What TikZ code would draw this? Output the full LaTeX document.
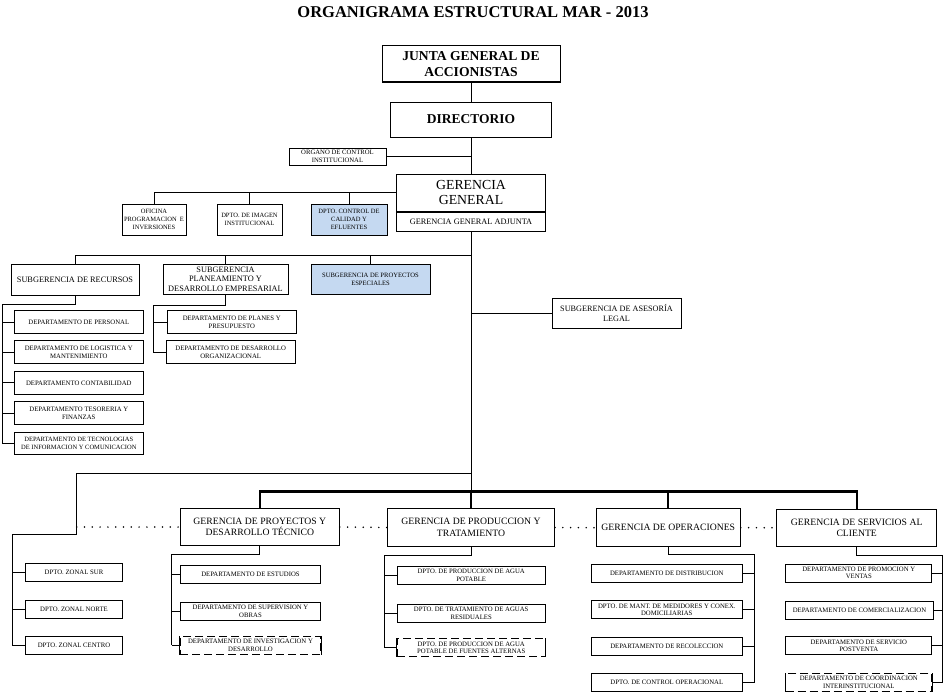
\documentclass[tikz,border=0pt]{standalone}
\usepackage{fontspec}
\setmainfont{Liberation Serif}
\usepackage{xcolor}
\definecolor{BoxBlue}{RGB}{197,217,241}
\usepackage{tikz}
\tikzstyle{Box}=[draw=black,line width=1pt,inner sep=0pt,align=center,
font=\fontsize{9.7}{11.5}\selectfont]
\tikzstyle{Small}=[Box,font=\fontsize{6.5}{7.8}\selectfont]
\tikzstyle{Dept}=[Box,minimum height=18,font=\fontsize{6.75}{7.6}\selectfont]
\tikzstyle{Open}=[Dept,dash pattern=on 8pt off 4pt]
\tikzstyle{Blue}=[fill=BoxBlue]
\tikzstyle{Edge}=[draw=black,line width=1pt]
\tikzstyle{Bar}=[draw=black,line width=2.2pt]
\tikzstyle{Dots}=[draw=black,line width=1.7pt,line cap=round,
dash pattern=on 0pt off 7.8pt]

\begin{document}
\begin{tikzpicture}[x=1pt,y=-1pt]
    \useasboundingbox(0,0)rectangle(945,693);
    \node[font=\fontsize{16.5}{20}\selectfont\bfseries](title)at(473,12)
        {ORGANIGRAMA ESTRUCTURAL MAR - 2013};
    % alta direccion
    \node[Box,minimum width=178,minimum height=36,
        font=\fontsize{13.6}{15.5}\selectfont\bfseries](junta)at(471,64)
        {JUNTA GENERAL DE\\ACCIONISTAS};
    \node[Box,minimum width=161,minimum height=35,
        font=\fontsize{13.5}{15}\selectfont\bfseries](dir)at(471,119.5)
        {DIRECTORIO};
    \node[Small,minimum width=97,minimum height=17,
        font=\fontsize{6.7}{7.4}\selectfont](oci)at(337.5,156.5)
        {ORGANO DE CONTROL\\INSTITUCIONAL};
    \node[Box,minimum width=149,minimum height=37,
        font=\fontsize{13.8}{15.5}\selectfont](gg)at(471,192.5)
        {GERENCIA\\GENERAL};
    \node[Box,minimum width=149,minimum height=19,anchor=north,
        font=\fontsize{8.3}{9}\selectfont](gga)at(gg.south)
        {GERENCIA GENERAL ADJUNTA};
    \node[Small,minimum width=64,minimum height=31](ofi)at(154,219.5)
        {OFICINA\\PROGRAMACION~~E\\INVERSIONES};
    \node[Small,minimum width=65,minimum height=31](img)at(249.5,219.5)
        {DPTO. DE IMAGEN\\INSTITUCIONAL};
    \node[Small,Blue,minimum width=76,minimum height=31](cal)at(349,219.5)
        {DPTO. CONTROL DE\\CALIDAD Y\\EFLUENTES};
    % subgerencias
    \node[Box,minimum width=128,minimum height=31,
        font=\fontsize{8.3}{10}\selectfont](srec)at(75,279.5)
        {SUBGERENCIA DE RECURSOS};
    \node[Box,minimum width=125,minimum height=30,
        font=\fontsize{8.3}{9.4}\selectfont](splan)at(225.5,279)
        {SUBGERENCIA\\PLANEAMIENTO Y\\DESARROLLO EMPRESARIAL};
    \node[Small,Blue,minimum width=119,minimum height=30,
        font=\fontsize{6.6}{8}\selectfont](sproy)at(370.5,279)
        {SUBGERENCIA DE PROYECTOS\\ESPECIALES};
    \node[Box,minimum width=129,minimum height=30,
        font=\fontsize{8.2}{9.6}\selectfont](sleg)at(616.5,313)
        {SUBGERENCIA DE ASESOR\'IA\\LEGAL};
    \node[Dept,minimum width=129,minimum height=22.6](per)at(78.8,322)
        {DEPARTAMENTO DE PERSONAL};
    \node[Dept,minimum width=129,minimum height=22.6](log)at(78.8,352.2)
        {DEPARTAMENTO DE LOGISTICA Y\\MANTENIMIENTO};
    \node[Dept,minimum width=129,minimum height=22.6](con)at(78.8,382.8)
        {DEPARTAMENTO CONTABILIDAD};
    \node[Dept,minimum width=129,minimum height=22.6](tes)at(78.8,413.2)
        {DEPARTAMENTO TESORERIA Y\\FINANZAS};
    \node[Dept,minimum width=129,minimum height=22.6,
        font=\fontsize{6.5}{7.6}\selectfont](tec)at(78.8,443.3)
        {DEPARTAMENTO DE TECNOLOGIAS\\DE INFORMACION Y COMUNICACION};
    \node[Dept,minimum width=128.7,minimum height=22.6](pla)at(231.7,322)
        {DEPARTAMENTO DE PLANES Y\\PRESUPUESTO};
    \node[Dept,minimum width=129,minimum height=22.6](dor)at(230.7,352.2)
        {DEPARTAMENTO DE DESARROLLO\\ORGANIZACIONAL};
    % gerencias de linea
    \node[Box,minimum width=159,minimum height=37.4](gpd)at(259.8,527)
        {GERENCIA DE PROYECTOS Y\\DESARROLLO T\'ECNICO};
    \node[Box,minimum width=167,minimum height=38.4](gpt)at(471,527.5)
        {GERENCIA DE PRODUCCION Y\\TRATAMIENTO};
    \node[Box,minimum width=144,minimum height=38](gop)at(668.3,527.7)
        {GERENCIA DE OPERACIONES};
    \node[Box,minimum width=160,minimum height=37](gsc)at(856.7,527.7)
        {GERENCIA DE SERVICIOS AL\\CLIENTE};
    \node[Dept,minimum width=96.6](zsur)at(74,572.3){DPTO. ZONAL SUR};
    \node[Dept,minimum width=96.6](znor)at(74,609.2){DPTO. ZONAL NORTE};
    \node[Dept,minimum width=96.6](zcen)at(74,645.8){DPTO. ZONAL CENTRO};
    \node[Dept,minimum width=140.4](est)at(250.5,574.5)
        {DEPARTAMENTO DE ESTUDIOS};
    \node[Dept,minimum width=140.4](sup)at(250.5,611.3)
        {DEPARTAMENTO DE SUPERVISION Y\\OBRAS};
    \node[Open,minimum width=140.4](inv)at(250.5,645.3)
        {DEPARTAMENTO DE INVESTIGACION Y\\DESARROLLO};
    \node[Dept,minimum width=147.7](pap)at(471.2,575.2)
        {DPTO. DE PRODUCCION DE AGUA\\POTABLE};
    \node[Dept,minimum width=147.7](tar)at(471.2,613.5)
        {DPTO. DE TRATAMIENTO DE AGUAS\\RESIDUALES};
    \node[Open,minimum width=147.7](pfa)at(471.2,647.8)
        {DPTO. DE PRODUCCION DE AGUA\\POTABLE DE FUENTES ALTERNAS};
    \node[Dept,minimum width=150.7](dis)at(666.8,573.5)
        {DEPARTAMENTO DE DISTRIBUCION};
    \node[Dept,minimum width=150.7](mme)at(666.8,609.8)
        {DPTO. DE MANT. DE MEDIDORES Y CONEX.\\DOMICILIARIAS};
    \node[Dept,minimum width=150.7](rec)at(666.8,646.7)
        {DEPARTAMENTO DE RECOLECCION};
    \node[Dept,minimum width=150.7](cop)at(666.8,682.5)
        {DPTO. DE CONTROL OPERACIONAL};
    \node[Dept,minimum width=146.3](pve)at(858.8,573)
        {DEPARTAMENTO DE PROMOCION Y\\VENTAS};
    \node[Dept,minimum width=147.6](com)at(859.5,610.3)
        {DEPARTAMENTO DE COMERCIALIZACION};
    \node[Dept,minimum width=146.3](pos)at(858.8,645.8)
        {DEPARTAMENTO DE SERVICIO\\POSTVENTA};
    \node[Open,minimum width=146.3](coo)at(858.8,682.5)
        {DEPARTAMENTO DE COORDINACION\\INTERINSTITUCIONAL};
    % puntos de quiebre
    \coordinate(sub)at(471,255);
    \coordinate(recs)at(2,304);
    \coordinate(plas)at(153.3,305);
    \coordinate(zon)at(76.7,473.5);
    \coordinate(zonb)at(76.7,534);
    \coordinate(zons)at(12.7,534);
    \coordinate(bar)at(471,491.5);
    \coordinate(pds)at(171.7,554.3);
    \coordinate(pts)at(384.3,555);
    \coordinate(ops)at(754.8,554.3);
    \coordinate(scs)at(942.7,555);
    % conectores
    \draw[Edge](junta.south)--(dir.north);
    \draw[Edge](dir.south)--(gg.north);
    \draw[Edge](gga.south)--(bar);
    \draw[Edge](oci.east)--(oci.east-|dir.south);
    \draw[Edge](gg.west)-|(ofi.north);
    \draw[Edge](img.north)--(img.north|-gg.west);
    \draw[Edge](cal.north)--(cal.north|-gg.west);
    \draw[Edge](sub)-|(srec.north);
    \draw[Edge](splan.north)--(splan.north|-sub);
    \draw[Edge](sproy.north)--(sproy.north|-sub);
    \draw[Edge](sleg.west)--(sleg.west-|gga.south);
    \draw[Edge](srec.south)|-(recs)--(recs|-tec.west);
    \foreach \n in {per,log,con,tes,tec}
        \draw[Edge](recs|-\n.west)--(\n.west);
    \draw[Edge](splan.south)|-(plas)--(plas|-dor.west);
    \foreach \n in {pla,dor}
        \draw[Edge](plas|-\n.west)--(\n.west);
    \draw[Edge](zon-|gga.south)--(zon)--(zonb)--(zons)--(zons|-zcen.west);
    \foreach \n in {zsur,znor,zcen}
        \draw[Edge](zons|-\n.west)--(\n.west);
    \draw[Bar](gpd.north)|-(bar)-|(gsc.north);
    \draw[Bar](gop.north)--(gop.north|-bar);
    \draw[Bar](bar)--(gpt.north);
    \draw[Dots](zon|-gpd.west)--(gpd.west);
    \draw[Dots](gpd.east)--(gpt.west);
    \draw[Dots](gpt.east)--(gop.west);
    \draw[Dots](gop.east)--(gsc.west);
    \draw[Edge](gpd.south)|-(pds)--(pds|-inv.west);
    \foreach \n in {est,sup,inv}
        \draw[Edge](pds|-\n.west)--(\n.west);
    \draw[Edge](gpt.south)|-(pts)--(pts|-pfa.west);
    \foreach \n in {pap,tar,pfa}
        \draw[Edge](pts|-\n.west)--(\n.west);
    \draw[Edge](gop.south)|-(ops)--(ops|-cop.east);
    \foreach \n in {dis,mme,rec,cop}
        \draw[Edge](ops|-\n.east)--(\n.east);
    \draw[Edge](gsc.south)|-(scs)--(scs|-coo.east);
    \foreach \n in {pve,com,pos,coo}
        \draw[Edge](scs|-\n.east)--(\n.east);
    % lados llenos de las cajas abiertas
    \foreach \n in {inv,pfa,coo}
        \draw[Edge](\n.north west)--(\n.south west)
            (\n.north east)--(\n.south east);
\end{tikzpicture}
\end{document}
